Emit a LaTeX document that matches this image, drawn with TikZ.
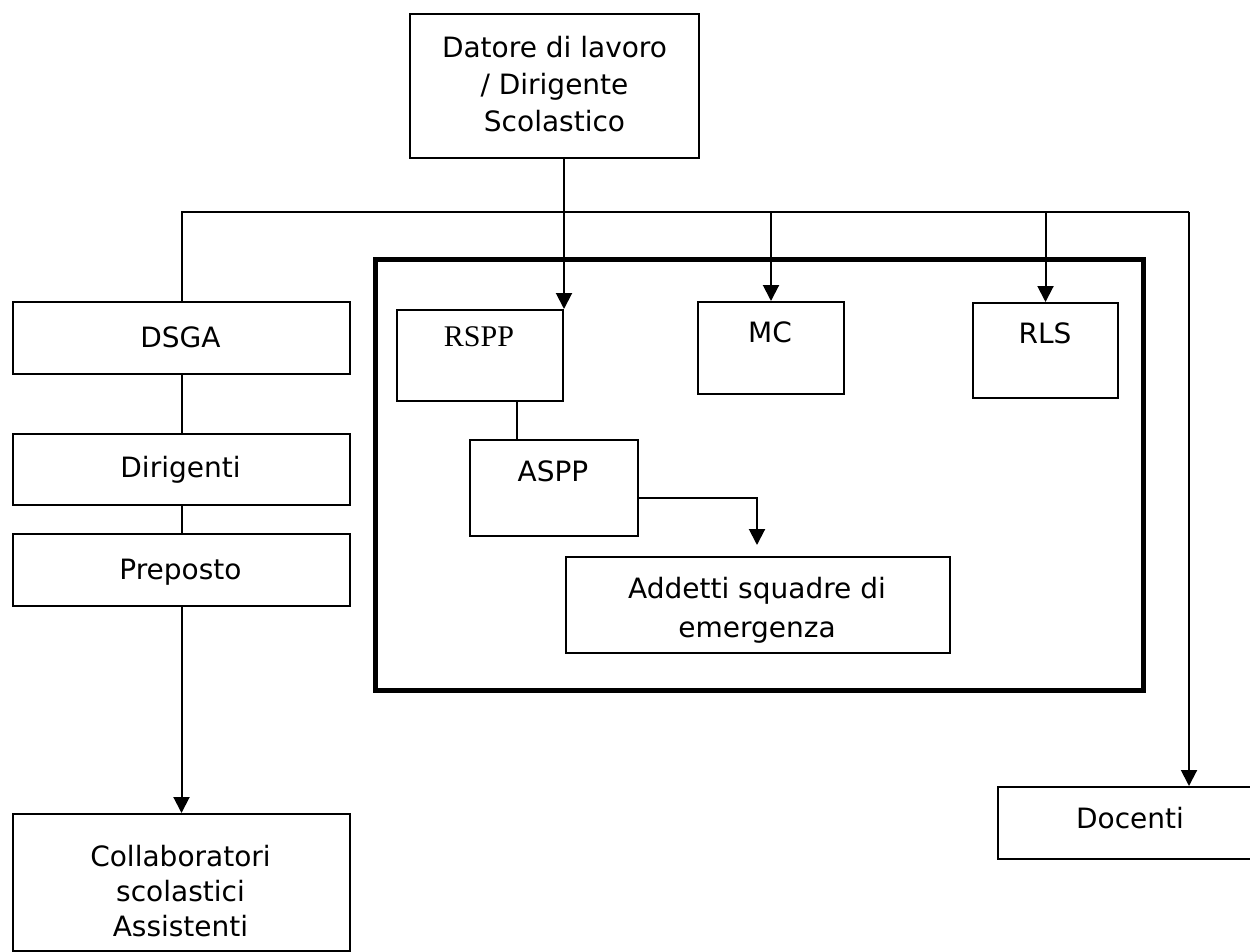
\documentclass[tikz,border=0pt]{standalone}
\usepackage{fontspec}
\setmainfont{DejaVu Sans}
\newfontfamily\serifrm{Liberation Serif}
\usetikzlibrary{arrows.meta,calc}
\begin{document}
\begin{tikzpicture}[x=1pt,y=-1pt,
  box/.style={draw, line width=2pt, rectangle, inner sep=0pt, anchor=north west},
  lbl/.style={font=\fontsize{28}{37}\selectfont, align=center, inner sep=0pt},
  conn/.style={line width=2pt},
  arr/.style={conn, -{Triangle[length=16pt,width=16pt]}},
  team/.style={draw, line width=5pt, rectangle, inner sep=0pt, anchor=north west}]
\useasboundingbox (0,0) rectangle (1250,952);

% frame of the safety team
\node[team, minimum width=768.5pt, minimum height=431pt] (frame) at (372.5,257) {};

% boxes
\node[box, minimum width=289pt, minimum height=144pt] (datore) at (409,13) {};
\node[box, minimum width=337pt, minimum height=72pt] (dsga) at (12,301) {};
\node[box, minimum width=337pt, minimum height=71pt] (dirig) at (12,433) {};
\node[box, minimum width=337pt, minimum height=72pt] (prep) at (12,533) {};
\node[box, minimum width=337pt, minimum height=137pt] (collab) at (12,813) {};
\node[box, minimum width=166pt, minimum height=91pt] (rspp) at (396,309) {};
\node[box, minimum width=146pt, minimum height=92pt] (mc) at (697,301) {};
\node[box, minimum width=145pt, minimum height=95pt] (rls) at (972,302) {};
\node[box, minimum width=168pt, minimum height=96pt] (aspp) at (469,439) {};
\node[box, minimum width=384pt, minimum height=96pt] (addetti) at (565,556) {};
\node[box, minimum width=265pt, minimum height=72pt] (docenti) at (997,786) {};

% labels
\node[lbl] (tdatore) at ($(datore.center)+(0,-2)$) {Datore di lavoro\\/ Dirigente\\Scolastico};
\node[lbl] (tdsga) at (180.5,337) {DSGA};
\node[lbl, anchor=base] (tdirig) at (180.5,477) {Dirigenti};
\node[lbl, anchor=base] (tprep) at (180.5,579) {Preposto};
\node[lbl, font=\fontsize{28}{35}\selectfont] (tcollab) at (180.5,891) {Collaboratori\\scolastici\\Assistenti};
\node[lbl, font=\serifrm\fontsize{30}{36}\selectfont] (trspp) at (479,337) {RSPP};
\node[lbl] (tmc) at (770,332) {MC};
\node[lbl] (trls) at (1045,333) {RLS};
\node[lbl] (taspp) at (553,471) {ASPP};
\node[lbl, font=\fontsize{28}{39}\selectfont] (taddetti) at (757,610) {Addetti squadre di\\emergenza};
\node[lbl] (tdocenti) at (1130,818) {Docenti};

% connectors
\coordinate (busR) at (1189,212);
\coordinate (lk) at (517,0);
\coordinate (lvA) at (0,498);
\coordinate (tipA) at (757,545);
\draw[conn] (dsga.north) -- (dsga.north |- busR) -- (busR);
\draw[arr] (busR) -- (busR |- docenti.north);
\draw[arr] (mc.north |- busR) -- (mc.north);
\draw[arr] (rls.north |- busR) -- (rls.north);
\draw[arr] (datore.south -| rspp.north east) -- (rspp.north east);
\draw[conn] (dsga.south) -- (dirig.north);
\draw[conn] (dirig.south) -- (prep.north);
\draw[arr] (prep.south) -- (collab.north);
\draw[conn] (rspp.south -| lk) -- (aspp.north -| lk);
\draw[arr] (aspp.east |- lvA) -| (tipA);
\end{tikzpicture}
\end{document}
